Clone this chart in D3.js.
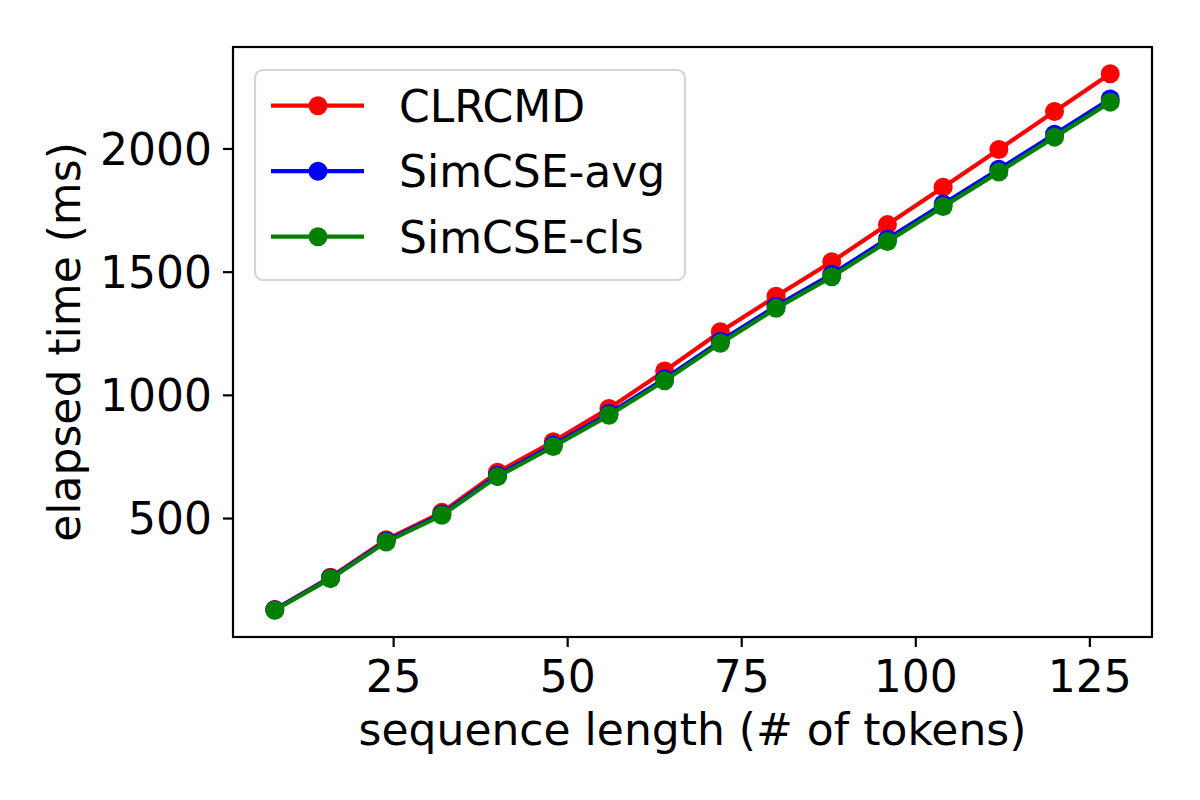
<!DOCTYPE html>
<html>
<head>
<meta charset="utf-8">
<script src="https://cdn.jsdelivr.net/npm/d3@7"></script>
<style>
  body { margin: 0; background: #fff; }
  svg, svg text { font-family: "DejaVu Sans", sans-serif; }
</style>
</head>
<body>
<div id="chart"></div>
<script>
// sequence length (# of tokens)
const seqLen = [8, 16, 24, 32, 40, 48, 56, 64, 72, 80, 88, 96, 104, 112, 120, 128];

// elapsed time (ms) per method
const clrcmd = [129, 260, 412, 523, 686, 810, 945, 1097, 1256, 1400, 1540, 1691, 1843, 1996, 2150, 2303];
const simcseAvg = [128, 257, 407, 516, 674, 796, 924, 1065, 1218, 1360, 1489, 1633, 1775, 1916, 2058, 2201];
const simcseCls = [126, 254, 403, 511, 668, 790, 917, 1057, 1209, 1351, 1479, 1622, 1764, 1904, 2046, 2188];

const seriesNames = ["CLRCMD", "SimCSE-avg", "SimCSE-cls"];
const seriesColors = ["#ff0000", "#0000ff", "#008000"];
const xTicks = [25, 50, 75, 100, 125];
const yTicks = [500, 1000, 1500, 2000];

const width = 1200, height = 800;
const plot = { left: 233, right: 1152, top: 47, bottom: 637 };
const fontSize = 44;
const fontFamily = "DejaVu Sans, sans-serif";

const series = [clrcmd, simcseAvg, simcseCls].map((vals, i) => ({
  name: seriesNames[i],
  color: seriesColors[i],
  points: vals.map((v, j) => ({ x: seqLen[j], y: v }))
}));

// matplotlib style 5% margins
function padded(lo, hi) {
  const m = (hi - lo) * 0.05;
  return [lo - m, hi + m];
}
const allY = [].concat(clrcmd, simcseAvg, simcseCls);

const x = d3.scaleLinear()
  .domain(padded(d3.min(seqLen), d3.max(seqLen)))
  .range([plot.left, plot.right]);

const y = d3.scaleLinear()
  .domain(padded(d3.min(allY), d3.max(allY)))
  .range([plot.bottom, plot.top]);

const svg = d3.select("#chart")
  .append("svg")
  .attr("width", width)
  .attr("height", height);

// x axis
const xAxis = svg.append("g")
  .attr("transform", `translate(0,${plot.bottom})`)
  .call(d3.axisBottom(x).tickValues(xTicks).tickSize(10).tickPadding(11).tickFormat(d3.format("d")))
  .attr("font-family", fontFamily)
  .attr("font-size", fontSize);
xAxis.select(".domain").remove();
xAxis.selectAll(".tick line").attr("stroke", "#000").attr("stroke-width", 2.2);
xAxis.selectAll(".tick text")
  .attr("fill", "#000")
  .attr("dy", null)
  .attr("y", 55);

// y axis
const yAxis = svg.append("g")
  .attr("transform", `translate(${plot.left},0)`)
  .call(d3.axisLeft(y).tickValues(yTicks).tickSize(10).tickPadding(11).tickFormat(d3.format("d")))
  .attr("font-family", fontFamily)
  .attr("font-size", fontSize);
yAxis.select(".domain").remove();
yAxis.selectAll(".tick line").attr("stroke", "#000").attr("stroke-width", 2.2);
yAxis.selectAll(".tick text")
  .attr("fill", "#000")
  .attr("dy", "0.36em");

// lines + markers
const line = d3.line().x(d => x(d.x)).y(d => y(d.y));

series.forEach(s => {
  const g = svg.append("g");
  g.append("path")
    .datum(s.points)
    .attr("fill", "none")
    .attr("stroke", s.color)
    .attr("stroke-width", 4.2)
    .attr("stroke-linejoin", "round")
    .attr("d", line);
  g.selectAll("circle")
    .data(s.points)
    .enter()
    .append("circle")
    .attr("cx", d => x(d.x))
    .attr("cy", d => y(d.y))
    .attr("r", 9.5)
    .attr("fill", s.color);
});

// frame
svg.append("rect")
  .attr("x", plot.left)
  .attr("y", plot.top)
  .attr("width", plot.right - plot.left)
  .attr("height", plot.bottom - plot.top)
  .attr("fill", "none")
  .attr("stroke", "#000")
  .attr("stroke-width", 2.2);

// legend
const legend = svg.append("g").attr("transform", "translate(255,70)");
legend.append("rect")
  .attr("width", 430)
  .attr("height", 210)
  .attr("rx", 8)
  .attr("fill", "#fff")
  .attr("fill-opacity", 0.8)
  .attr("stroke", "#d6d6d6")
  .attr("stroke-width", 2.2);

const rows = legend.selectAll("g.row")
  .data(series)
  .enter()
  .append("g")
  .attr("class", "row")
  .attr("transform", (d, i) => `translate(0,${35.7 + i * 65.5})`);

rows.append("line")
  .attr("x1", 16).attr("x2", 109)
  .attr("stroke", d => d.color)
  .attr("stroke-width", 4.2);
rows.append("circle")
  .attr("cx", 63)
  .attr("r", 9.5)
  .attr("fill", d => d.color);
rows.append("text")
  .attr("x", 144)
  .attr("dy", "0.36em")
  .attr("font-family", fontFamily)
  .attr("font-size", fontSize)
  .attr("fill", "#000")
  .text(d => d.name);

// axis labels
svg.append("text")
  .attr("x", (plot.left + plot.right) / 2)
  .attr("y", 745)
  .attr("text-anchor", "middle")
  .attr("font-family", fontFamily)
  .attr("font-size", fontSize)
  .attr("fill", "#000")
  .text("sequence length (# of tokens)");

svg.append("text")
  .attr("transform", `translate(80,${(plot.top + plot.bottom) / 2}) rotate(-90)`)
  .attr("text-anchor", "middle")
  .attr("font-family", fontFamily)
  .attr("font-size", fontSize)
  .attr("fill", "#000")
  .text("elapsed time (ms)");
</script>
</body>
</html>
